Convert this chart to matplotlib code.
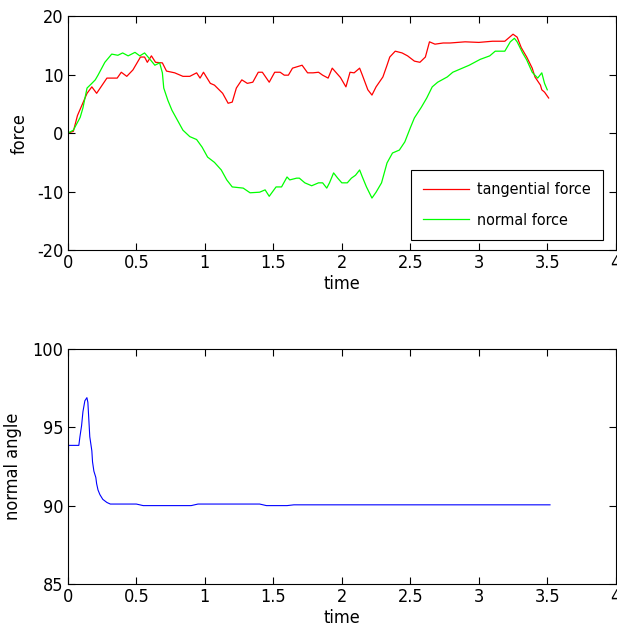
import matplotlib
matplotlib.use("Agg")
import matplotlib.pyplot as plt

# tangential force (red)
t_tan = [0.0, 0.04, 0.07, 0.14, 0.175, 0.21, 0.285, 0.36, 0.39, 0.43, 0.475, 0.53, 0.56,
         0.58, 0.61, 0.64, 0.69, 0.72, 0.78, 0.84, 0.89, 0.94, 0.965, 0.99, 1.04, 1.07,
         1.13, 1.17, 1.2, 1.23, 1.27, 1.31, 1.35, 1.39, 1.42, 1.47, 1.51, 1.55, 1.58,
         1.61, 1.64, 1.71, 1.75, 1.79, 1.83, 1.86, 1.9, 1.93, 1.99, 2.03, 2.06, 2.09,
         2.13, 2.15, 2.19, 2.22, 2.25, 2.3, 2.33, 2.35, 2.39, 2.44, 2.48, 2.53, 2.57,
         2.61, 2.64, 2.68, 2.74, 2.79, 2.9, 3.0, 3.1, 3.19, 3.25, 3.28, 3.31, 3.35,
         3.39, 3.41, 3.45, 3.46, 3.48, 3.51]
f_tan = [0.0, 0.3, 3.0, 6.8, 7.9, 6.8, 9.4, 9.4, 10.4, 9.7, 10.8, 13.0, 13.0,
         12.1, 13.2, 12.1, 12.0, 10.6, 10.3, 9.7, 9.7, 10.3, 9.4, 10.4, 8.5, 8.2,
         6.8, 5.1, 5.3, 7.7, 9.1, 8.5, 8.7, 10.4, 10.4, 8.7, 10.4, 10.4, 9.9,
         9.9, 11.1, 11.6, 10.3, 10.3, 10.4, 9.9, 9.4, 11.1, 9.5, 7.9, 10.4, 10.3,
         11.1, 9.9, 7.4, 6.5, 7.9, 9.6, 11.6, 13.0, 14.0, 13.7, 13.2, 12.3, 12.1,
         13.0, 15.6, 15.2, 15.4, 15.4, 15.6, 15.5, 15.7, 15.7, 16.9, 16.4, 14.6, 13.0,
         11.1, 9.6, 8.2, 7.4, 7.0, 6.0]

# normal force (green)
t_nor = [0.0, 0.04, 0.09, 0.11, 0.14, 0.175, 0.2, 0.22, 0.27, 0.32, 0.365, 0.4, 0.44,
         0.49, 0.525, 0.56, 0.6, 0.635, 0.67, 0.69, 0.7, 0.73, 0.76, 0.8, 0.84, 0.89,
         0.94, 0.98, 1.02, 1.07, 1.12, 1.16, 1.2, 1.28, 1.33, 1.4, 1.44, 1.47, 1.52,
         1.56, 1.6, 1.62, 1.67, 1.69, 1.73, 1.78, 1.83, 1.86, 1.89, 1.91, 1.94, 1.97,
         2.0, 2.04, 2.07, 2.1, 2.13, 2.15, 2.18, 2.22, 2.25, 2.29, 2.33, 2.37, 2.42,
         2.46, 2.5, 2.53, 2.58, 2.62, 2.66, 2.7, 2.77, 2.81, 2.88, 2.93, 3.01, 3.08,
         3.12, 3.19, 3.23, 3.26, 3.28, 3.32, 3.35, 3.39, 3.43, 3.46, 3.48, 3.5]
f_nor = [0.0, 0.5, 2.7, 4.3, 7.7, 8.5, 9.1, 9.9, 12.1, 13.5, 13.3, 13.7, 13.2,
         13.8, 13.2, 13.7, 12.6, 11.6, 12.0, 10.3, 7.7, 5.6, 3.9, 2.2, 0.5, -0.6,
         -1.1, -2.4, -4.1, -5.0, -6.3, -8.0, -9.2, -9.4, -10.2, -10.1, -9.7, -10.8, -9.2,
         -9.2, -7.5, -8.0, -7.7, -7.7, -8.5, -9.0, -8.5, -8.5, -9.4, -8.5, -6.8, -7.7,
         -8.5, -8.5, -7.7, -7.2, -6.3, -7.5, -9.2, -11.1, -10.1, -8.5, -5.1, -3.4, -2.9,
         -1.5, 0.9, 2.6, 4.4, 6.0, 7.9, 8.7, 9.6, 10.4, 11.1, 11.6, 12.6, 13.2,
         14.0, 14.0, 15.6, 16.2, 15.6, 13.7, 12.5, 10.4, 9.4, 10.3, 8.5, 7.4]

# normal angle (blue)
t_ang = [0.0, 0.005, 0.08, 0.088, 0.10, 0.11, 0.124, 0.139, 0.146, 0.153, 0.16, 0.175,
         0.18, 0.19, 0.204, 0.21, 0.22, 0.234, 0.255, 0.285, 0.31, 0.5, 0.55, 0.9,
         0.95, 1.4, 1.45, 1.6, 1.65, 2.0, 2.5, 3.0, 3.52]
v_ang = [90.05, 93.85, 93.85, 94.4, 95.1, 96.0, 96.7, 96.9, 96.6, 95.5, 94.4, 93.5,
         92.8, 92.2, 91.8, 91.4, 91.0, 90.7, 90.4, 90.2, 90.1, 90.1, 90.0, 90.0,
         90.1, 90.1, 90.0, 90.0, 90.05, 90.05, 90.05, 90.05, 90.05]

xticks = [0, 0.5, 1, 1.5, 2, 2.5, 3, 3.5, 4]
xticklabels = ["0", "0.5", "1", "1.5", "2", "2.5", "3", "3.5", "4"]

plt.rcParams['font.family'] = ['DejaVu Sans']
plt.rcParams['font.stretch'] = 'condensed'
plt.rcParams['font.size'] = 13
plt.rcParams['axes.unicode_minus'] = False

fig = plt.figure(figsize=(6.17, 6.43), dpi=100)
ax1 = fig.add_axes([0.110, 0.611, 0.888, 0.364])
ax2 = fig.add_axes([0.110, 0.092, 0.888, 0.365])

ax1.plot(t_tan, f_tan, color="#ff0000", lw=0.9, label="tangential force")
ax1.plot(t_nor, f_nor, color="#00ff00", lw=0.9, label="normal force")
ax1.set_xlim(0, 4)
ax1.set_ylim(-20, 20)
ax1.set_yticks([-20, -10, 0, 10, 20])
ax1.set_xlabel("time", labelpad=2)
ax1.set_ylabel("force", labelpad=6)
leg = ax1.legend(loc="lower right", bbox_to_anchor=(0.976, 0.043), borderaxespad=0,
                 fancybox=False, edgecolor="black", framealpha=1, fontsize=11.5,
                 handlelength=2.9, handletextpad=0.5, borderpad=0.75, labelspacing=1.0)
leg.get_frame().set_linewidth(0.8)

ax2.plot(t_ang, v_ang, color="#0000ff", lw=0.8)
ax2.set_xlim(0, 4)
ax2.set_ylim(85, 100)
ax2.set_yticks([85, 90, 95, 100])
ax2.set_xlabel("time", labelpad=2)
ax2.set_ylabel("normal angle", labelpad=8)

for ax in (ax1, ax2):
    ax.set_xticks(xticks)
    ax.set_xticklabels(xticklabels)
    ax.tick_params(direction="in", top=True, right=True, length=5, labelsize=13, pad=3)
    for s in ax.spines.values():
        s.set_linewidth(0.8)

fig.savefig("out.png", dpi=100)
